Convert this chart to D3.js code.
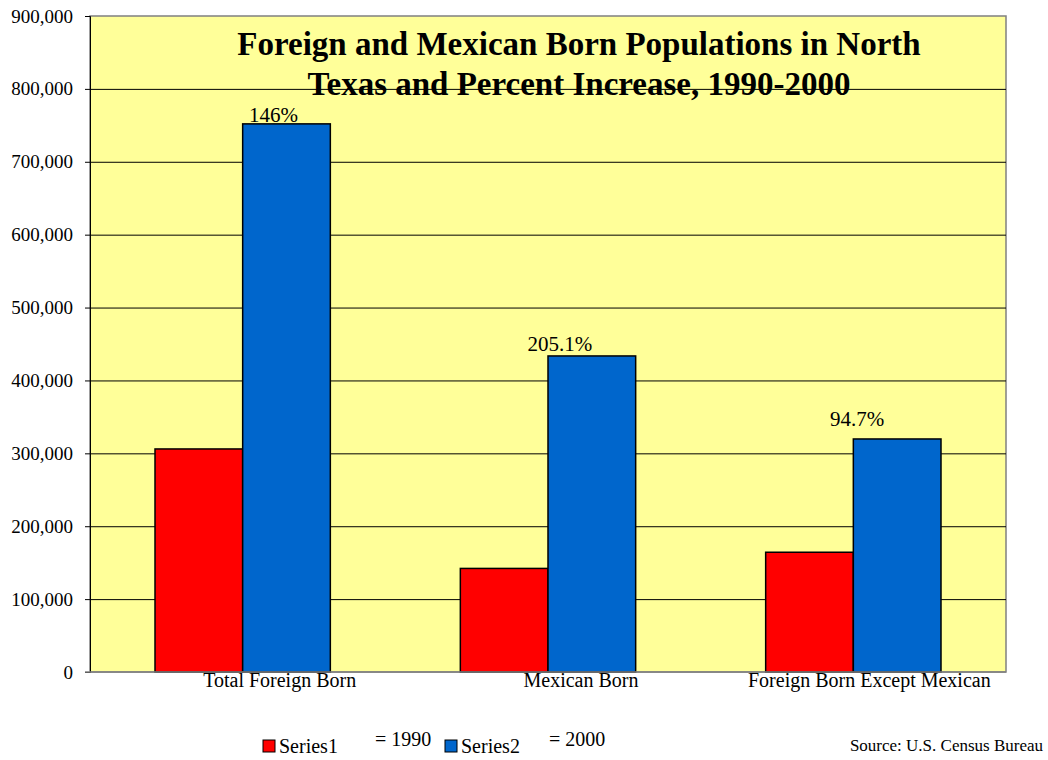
<!DOCTYPE html>
<html>
<head>
<meta charset="utf-8">
<script src="https://cdn.jsdelivr.net/npm/d3@7"></script>
<style>
  body { margin: 0; background: #fff; }
  svg text { font-family: "Liberation Serif", "Times New Roman", "DejaVu Serif", serif !important; fill: #000; }
</style>
</head>
<body>
<svg id="chart" width="1048" height="760"></svg>
<script>
// Foreign-born population counts for North Texas, 1990 and 2000
const categories = ["Total Foreign Born", "Mexican Born", "Foreign Born Except Mexican"];
const series1990 = [306000, 142100, 164300];
const series2000 = [752000, 433600, 319700];
const pctLabels = ["146%", "205.1%", "94.7%"];
const yTicks = [0, 100000, 200000, 300000, 400000, 500000, 600000, 700000, 800000, 900000];

const svg = d3.select("#chart");
const plot = { left: 90, right: 1006, top: 16, bottom: 672 };

const x = d3.scaleBand().domain(categories).range([plot.left, plot.right]).paddingInner(0).paddingOuter(0);
const y = d3.scaleLinear().domain([0, 900000]).range([plot.bottom, plot.top]);

// plot background
svg.append("rect")
  .attr("x", plot.left).attr("y", plot.top)
  .attr("width", plot.right - plot.left).attr("height", plot.bottom - plot.top)
  .attr("fill", "#FFFF99").attr("stroke", "#808080").attr("stroke-width", 1.5);

// horizontal gridlines
svg.append("g").selectAll("line").data(yTicks.slice(1, -1)).join("line")
  .attr("x1", plot.left).attr("x2", plot.right)
  .attr("y1", d => y(d) + 0.5).attr("y2", d => y(d) + 0.5)
  .attr("stroke", "#000").attr("stroke-width", 1);

// y axis
const yAxis = d3.axisLeft(y).tickValues(yTicks).tickSize(5).tickPadding(12)
  .tickFormat(d3.format(","));
const gy = svg.append("g").attr("transform", `translate(${plot.left},0)`).call(yAxis);
gy.attr("font-family", null).attr("font-size", null);
gy.select(".domain").attr("stroke", "#000");
gy.selectAll(".tick line").attr("stroke", "#000");
gy.selectAll(".tick text").style("font-size", "19px");

// bars
const band = x.bandwidth();
const gap = 65;
const barW = (band - 2 * gap) / 2;
const bars = svg.append("g");
categories.forEach((c, i) => {
  const x0 = x(c) + gap;
  bars.append("rect")
    .attr("x", x0).attr("y", y(series1990[i]))
    .attr("width", barW).attr("height", y(0) - y(series1990[i]))
    .attr("fill", "#FF0000").attr("stroke", "#000").attr("stroke-width", 1.5);
  bars.append("rect")
    .attr("x", x0 + barW).attr("y", y(series2000[i]))
    .attr("width", barW).attr("height", y(0) - y(series2000[i]))
    .attr("fill", "#0066CC").attr("stroke", "#000").attr("stroke-width", 1.5);
});

// baseline
svg.append("line").attr("x1", plot.left - 5).attr("x2", plot.right)
  .attr("y1", plot.bottom).attr("y2", plot.bottom)
  .attr("stroke", "#808080").attr("stroke-width", 1.5);

// percent-increase labels above the 2000 bars (hand-placed offsets)
const pctDx = [-13, -32, -40];
const pctDy = [-2, -5, -13];
svg.append("g").selectAll("text").data(categories).join("text")
  .attr("x", (c, i) => x(c) + gap + barW * 1.5 + pctDx[i])
  .attr("y", (c, i) => y(series2000[i]) + pctDy[i])
  .attr("text-anchor", "middle").style("font-size", "21px")
  .text((c, i) => pctLabels[i]);

// category labels
const catDx = [37, 33, 16];
svg.append("g").selectAll("text").data(categories).join("text")
  .attr("x", (c, i) => x(c) + band / 2 + catDx[i])
  .attr("y", plot.bottom + 15)
  .attr("text-anchor", "middle").style("font-size", "20px")
  .text(c => c);

// title
const title = svg.append("text").attr("text-anchor", "middle")
  .style("font-size", "33px").style("font-weight", "bold");
title.append("tspan").attr("x", 579).attr("y", 55).text("Foreign and Mexican Born Populations in North");
title.append("tspan").attr("x", 579).attr("y", 95).text("Texas and Percent Increase, 1990-2000");

// legend
const legend = [
  { name: "Series1", color: "#FF0000", x: 263, note: "= 1990", noteX: 375 },
  { name: "Series2", color: "#0066CC", x: 445, note: "= 2000", noteX: 549 }
];
const lg = svg.append("g");
legend.forEach(d => {
  lg.append("rect").attr("x", d.x).attr("y", 740).attr("width", 12).attr("height", 12)
    .attr("fill", d.color).attr("stroke", "#000").attr("stroke-width", 1);
  lg.append("text").attr("x", d.x + 16).attr("y", 753).style("font-size", "20px").text(d.name);
  lg.append("text").attr("x", d.noteX).attr("y", 746).style("font-size", "20px").text(d.note);
});

// source note
svg.append("text").attr("x", 1043).attr("y", 751).attr("text-anchor", "end")
  .style("font-size", "17px").text("Source: U.S. Census Bureau");
</script>
</body>
</html>
